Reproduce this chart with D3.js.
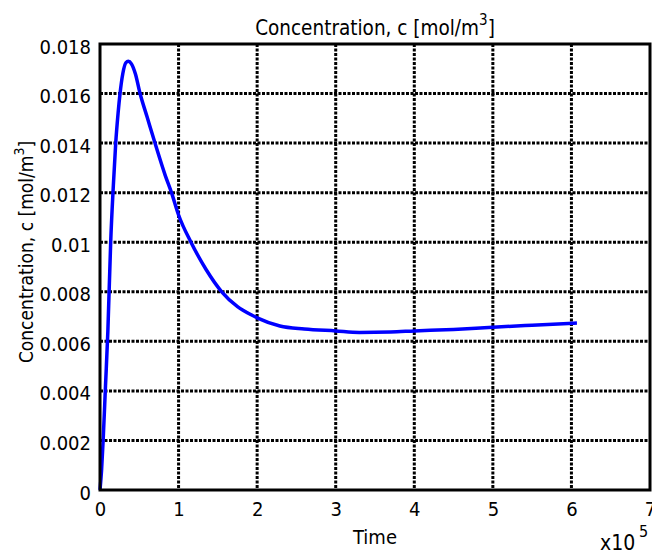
<!DOCTYPE html>
<html>
<head>
<meta charset="utf-8">
<script src="https://cdn.jsdelivr.net/npm/d3@7"></script>
<style>
  body { margin: 0; background: #fff; }
  text { font-family: "DejaVu Sans Condensed", "DejaVu Sans", sans-serif; font-stretch: condensed; fill: #000; }
</style>
</head>
<body>
<svg id="chart" width="652" height="554"></svg>
<script>
// time in units of 1e5
const timeVals = [0, 0.02, 0.04, 0.07, 0.1, 0.136, 0.17, 0.2, 0.23, 0.255, 0.29, 0.33, 0.36, 0.4, 0.45, 0.51, 0.6, 0.7, 0.83, 0.91, 1.0, 1.158, 1.35, 1.549, 1.75, 1.93, 2.0, 2.29, 2.6, 3.0, 3.3, 3.7, 4.0, 4.5, 5.0, 5.5, 6.07];
const concVals = [0, 0.0008, 0.002, 0.0042, 0.0064, 0.0100, 0.0123, 0.0140, 0.0152, 0.0160, 0.0168, 0.01725, 0.0173, 0.0172, 0.0168, 0.0160, 0.01505, 0.0140, 0.0127, 0.0120, 0.0111, 0.0100, 0.0089, 0.0080, 0.0074, 0.00706, 0.00695, 0.00662, 0.0065, 0.00642, 0.00636, 0.00638, 0.00642, 0.00648, 0.00657, 0.00665, 0.00674];
const xTicks = [0, 1, 2, 3, 4, 5, 6, 7];
const yTicks = [0, 0.002, 0.004, 0.006, 0.008, 0.01, 0.012, 0.014, 0.016, 0.018];

const svg = d3.select("#chart");
const pLeft = 100, pTop = 44, pRight = 650, pBottom = 490;

const x = d3.scaleLinear().domain([0, 7]).range([pLeft, pRight]);
const y = d3.scaleLinear().domain([0, 0.018]).range([pBottom, pTop]);

// grid
svg.append("g").selectAll("line").data(xTicks.slice(1, -1)).join("line")
  .attr("x1", d => x(d)).attr("x2", d => x(d))
  .attr("y1", pTop).attr("y2", pBottom)
  .attr("stroke", "#000").attr("stroke-width", 3).attr("stroke-dasharray", "3,1.5");
svg.append("g").selectAll("line").data(yTicks.slice(1, -1)).join("line")
  .attr("x1", pLeft).attr("x2", pRight)
  .attr("y1", d => y(d)).attr("y2", d => y(d))
  .attr("stroke", "#000").attr("stroke-width", 3).attr("stroke-dasharray", "3,1.5");

// curve
const pts = timeVals.map((t, i) => [t, concVals[i]]);
svg.append("path")
  .datum(pts)
  .attr("fill", "none")
  .attr("stroke", "#0000ff")
  .attr("stroke-width", 3.5)
  .attr("stroke-linejoin", "round")
  .attr("d", d3.line().x(d => x(d[0])).y(d => y(d[1])).curve(d3.curveMonotoneX));

// frame
svg.append("rect")
  .attr("x", pLeft).attr("y", pTop)
  .attr("width", pRight - pLeft).attr("height", pBottom - pTop)
  .attr("fill", "none").attr("stroke", "#000").attr("stroke-width", 3);

// axes labels
const xAxis = d3.axisBottom(x).tickValues(xTicks).tickFormat(d3.format("d")).tickSize(0).tickPadding(12);
svg.append("g").attr("transform", `translate(0,${pBottom})`).call(xAxis)
  .call(g => g.select(".domain").remove())
  .selectAll("text").style("font-size", "20px").style("font-family", null);

const yAxis = d3.axisLeft(y).tickValues(yTicks).tickFormat(d => d === 0 ? "0" : d3.format(".3~f")(d)).tickSize(0).tickPadding(9);
svg.append("g").attr("transform", `translate(${pLeft},0)`).call(yAxis)
  .call(g => g.select(".domain").remove())
  .selectAll("text").style("font-size", "20px").style("font-family", null).attr("dy", "0.45em");

// title
const title = svg.append("text")
  .attr("x", (pLeft + pRight) / 2).attr("y", 35)
  .attr("text-anchor", "middle").style("font-size", "20.5px");
title.append("tspan").text("Concentration, c [mol/m");
title.append("tspan").attr("dy", -10).style("font-size", "15px").text("3");
title.append("tspan").attr("dy", 10).text("]");

// y label
const yl = svg.append("text")
  .attr("transform", `translate(33,252) rotate(-90)`)
  .attr("text-anchor", "middle").style("font-size", "19px");
yl.append("tspan").text("Concentration, c [mol/m");
yl.append("tspan").attr("dy", -9).style("font-size", "14px").text("3");
yl.append("tspan").attr("dy", 9).text("]");

// x label
svg.append("text")
  .attr("x", (pLeft + pRight) / 2).attr("y", 544)
  .attr("text-anchor", "middle").style("font-size", "20px").text("Time");

// exponent
svg.append("text")
  .attr("x", 600).attr("y", 550)
  .style("font-size", "21px").text("x10");
svg.append("text")
  .attr("x", 639).attr("y", 537)
  .style("font-size", "16px").text("5");
</script>
</body>
</html>
